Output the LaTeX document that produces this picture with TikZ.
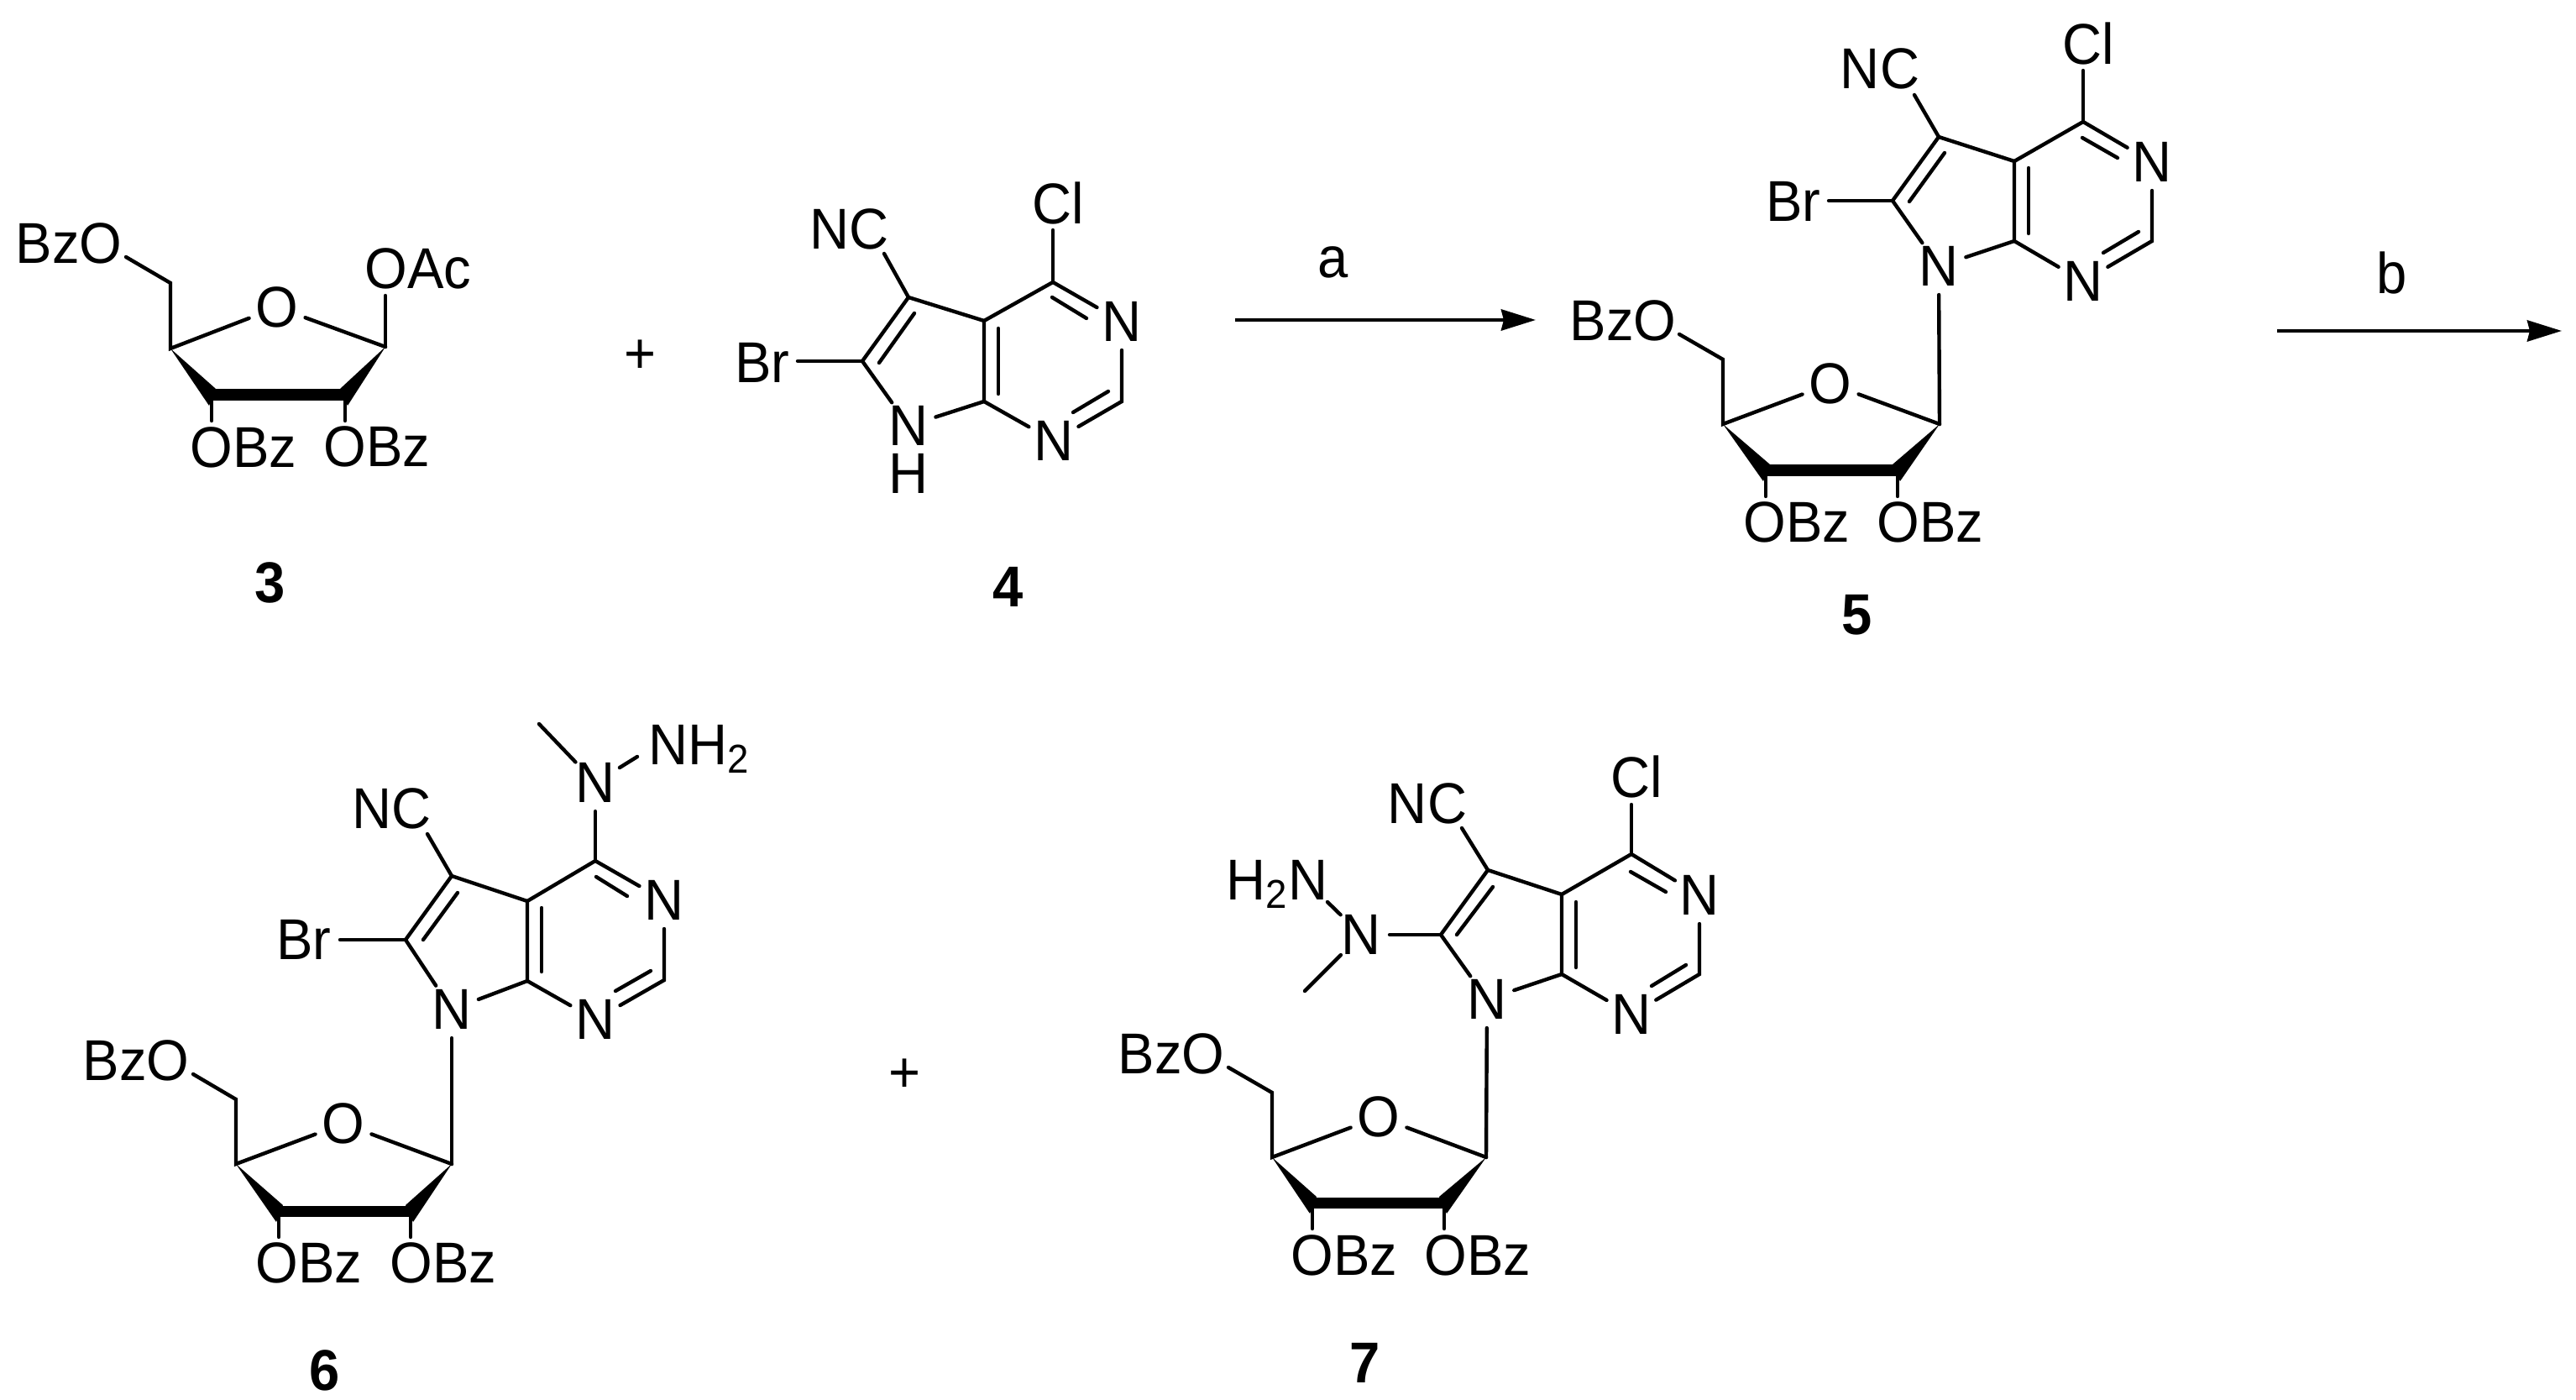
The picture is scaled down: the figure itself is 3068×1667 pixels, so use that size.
\documentclass[tikz,border=0pt]{standalone}
\usepackage{fontspec}
\setmainfont{Liberation Sans}[FakeStretch = 0.95]
\usetikzlibrary{calc, arrows.meta}

\tikzset{
	bond/.style = {line width = 0.044cm, line cap = round},
	boldbond/.style = {line width = 0.13cm},
	atom/.style = {circle, inner sep = 0pt, font = \fontsize{19.5}{21}\selectfont},
	grp/.style = {inner sep = 0pt, font = \fontsize{19.5}{21}\selectfont},
	num/.style = {inner sep = 0pt, font = \fontsize{19.5}{21}\selectfont\bfseries}
}

\begin{document}
\begin{tikzpicture}[x = 0.01cm, y = -0.01cm, > = {Stealth[length = 0.41cm, width = 0.25cm, inset = 0.03cm]}]

	\useasboundingbox (0, 0) rectangle (3068, 1667);

	% Sugar positions: ring, CH2, bond end, O, BzO, two OBz

	\foreach \n/\x/\y in {r1/459/413, r2/411/470, r3/252/470, r4/203/415, r5/203/337, ble/150/306, po/330/366, pb/82/290, po3/290/533, po2/449/532}
		\coordinate (m3-\n) at (\x, \y);
	\foreach \n/\x/\y in {r1/2310/505, r2/2260/560, r3/2103/560, r4/2052/505, r5/2052/428, ble/2000/398, po/2180/457, pb/1933/382, po3/2140/622, po2/2299/622}
		\coordinate (m5-\n) at (\x, \y);
	\foreach \n/\x/\y in {r1/538/1386, r2/489/1442, r3/332/1442, r4/281/1386, r5/281/1309, ble/230/1279, po/409/1338, pb/162/1263, po3/368/1504, po2/528/1504}
		\coordinate (m6-\n) at (\x, \y);
	\foreach \n/\x/\y in {r1/1770/1378, r2/1720/1432, r3/1563/1432, r4/1515/1378, r5/1515/1301, ble/1463/1271, po/1642/1330, pb/1395/1255, po3/1601/1495, po2/1760/1495}
		\coordinate (m7-\n) at (\x, \y);

	% Ring system positions: carbons, three N, inner lines, NC

	\foreach \n/\x/\y in {c4/1254/336, pn3/1336/383, c2/1336/478, pn1/1255/525, c7a/1172/478, c4a/1172/382, c5/1082/354, c6/1027/430, pn7/1082/507, i1a/1253/354, i1b/1294/379, i2a/1320/466, i2b/1278/491, i3a/1189/391, i3b/1189/469, i4a/1089/373, i4b/1047/432, pnc/1012/273, nce/1053/302}
		\coordinate (m4-\n) at (\x, \y);
	\foreach \n/\x/\y in {c4/2481/145, pn3/2563/193, c2/2563/287, pn1/2481/335, c7a/2399/287, c4a/2399/192, c5/2309/163, c6/2254/239, pn7/2309/317, i1a/2480/164, i1b/2522/188, i2a/2547/276, i2b/2505/301, i3a/2416/200, i3b/2416/278, i4a/2316/182, i4b/2274/240, pnc/2239/82, nce/2280/113}
		\coordinate (m5-\n) at (\x, \y);
	\foreach \n/\x/\y in {c4/709/1025, pn3/791/1072, c2/791/1167, pn1/709/1214, c7a/628/1168, c4a/628/1073, c5/538/1043, c6/483/1119, pn7/538/1202, i1a/710/1044, i1b/747/1067, i2a/775/1156, i2b/733/1180, i3a/645/1081, i3b/645/1157, i4a/545/1063, i4b/504/1119, pnc/467/963, nce/509/993}
		\coordinate (m6-\n) at (\x, \y);
	\foreach \n/\x/\y in {c4/1943/1017, pn3/2024/1066, c2/2024/1160, pn1/1943/1208, c7a/1860/1160, c4a/1860/1065, c5/1772/1036, c6/1716/1113, pn7/1771/1190, i1a/1942/1038, i1b/1984/1062, i2a/2008/1149, i2b/1967/1174, i3a/1877/1074, i3b/1877/1152, i4a/1778/1056, i4b/1735/1113, pnc/1700/957, nce/1741/986}
		\coordinate (m7-\n) at (\x, \y);

	% Sugar

	\foreach \m in {m3, m5, m6, m7}
	{
		\node [atom] (\m-o) at (\m-po) {O};
		\node [grp] (\m-bzo) at (\m-pb) {BzO};
		\node [grp] (\m-obz3) at (\m-po3) {OBz};
		\node [grp] (\m-obz2) at (\m-po2) {OBz};
		\coordinate (\m-e3) at ($(\m-r3) + (0, 31)$);
		\coordinate (\m-e2) at ($(\m-r2) + (0, 31)$);

		\fill (\m-r4) -- ($(\m-r3) + (5, -7)$) -- ($(\m-r3) + (-3, 13)$) -- cycle;
		\fill (\m-r1) -- ($(\m-r2) + (-6, -7)$) -- ($(\m-r2) + (3, 13)$) -- cycle;
		\draw [boldbond] (\m-r3) -- (\m-r2);
		\draw [bond] (\m-r1) -- (\m-o) -- (\m-r4) -- (\m-r5) -- (\m-ble);
		\draw [bond] (\m-r3) -- (\m-e3);
		\draw [bond] (\m-r2) -- (\m-e2);
	}

	% Ring system

	\foreach \m in {m4, m5, m6, m7}
	{
		\foreach \a in {n1, n3, n7}
			\node [atom] (\m-\a) at (\m-p\a) {N};
		\node [grp] (\m-nc) at (\m-pnc) {NC};

		\draw [bond] (\m-c4) -- (\m-n3) -- (\m-c2) -- (\m-n1) -- (\m-c7a) -- (\m-c4a) -- (\m-c4);
		\draw [bond] (\m-c7a) -- (\m-n7) -- (\m-c6) -- (\m-c5) -- (\m-c4a);
		\draw [bond] (\m-c5) -- (\m-nce);
		\foreach \i in {1, 2, 3, 4}
			\draw [bond] (\m-i\i a) -- (\m-i\i b);
	}

	% Compound 3

	\node [grp] (m3-oac) at (498, 320) {OAc};
	\coordinate (m3-ace) at (459, 352);
	\draw [bond] (m3-r1) -- (m3-ace);
	\node [num] (n3) at (322, 694) {3};

	\node [grp] (plus1) at (763, 425) {+};

	% Compound 4

	\node [grp] (m4-cl) at (1260, 242) {Cl};
	\node [grp] (m4-br) at (908, 432) {Br};
	\node [grp] (m4-h) at (1082, 564) {H};
	\coordinate (m4-cle) at (1254, 274);
	\coordinate (m4-bre) at (950, 430);
	\draw [bond] (m4-c4) -- (m4-cle);
	\draw [bond] (m4-c6) -- (m4-bre);
	\node [num] (n4) at (1201, 699) {4};

	% Step a

	\coordinate (a0) at (1471, 381);
	\coordinate (a1) at (1829, 381);
	\draw [bond, line cap = butt, ->] (a0) -- (a1);
	\node [grp] (stepa) at (1588, 312) {a};

	% Compound 5

	\node [grp] (m5-cl) at (2487, 52) {Cl};
	\node [grp] (m5-br) at (2136, 240) {Br};
	\coordinate (m5-cle) at (2481, 84);
	\coordinate (m5-bre) at (2178, 239);
	\draw [bond] (m5-c4) -- (m5-cle);
	\draw [bond] (m5-c6) -- (m5-bre);
	\draw [bond] (m5-n7) -- (m5-r1);
	\node [num] (n5) at (2212, 732) {5};

	% Step b

	\coordinate (b0) at (2712, 394);
	\coordinate (b1) at (3051, 394);
	\draw [bond, line cap = butt, ->] (b0) -- (b1);
	\node [grp] (stepb) at (2849, 325) {b};

	% Compound 6

	\node [grp] (m6-br) at (362, 1119) {Br};
	\coordinate (m6-bre) at (405, 1119);
	\draw [bond] (m6-c6) -- (m6-bre);
	\draw [bond] (m6-n7) -- (m6-r1);
	\node [atom] (m6-nme) at (709, 932) {N};
	\node [grp, anchor = base west] (m6-nh2) at (772, 910) {NH\textsubscript{2}};
	\coordinate (m6-nhe) at (759, 901);
	\coordinate (m6-me) at (642, 862);
	\draw [bond] (m6-c4) -- (m6-nme);
	\draw [bond] (m6-nme) -- (m6-nhe);
	\draw [bond] (m6-nme) -- (m6-me);
	\node [num] (n6) at (387, 1632) {6};

	\node [grp] (plus2) at (1078, 1281) {+};

	% Compound 7

	\node [grp] (m7-cl) at (1949, 925) {Cl};
	\coordinate (m7-cle) at (1943, 958);
	\draw [bond] (m7-c4) -- (m7-cle);
	\draw [bond] (m7-n7) -- (m7-r1);
	\node [atom] (m7-nme) at (1621, 1113) {N};
	\node [grp, anchor = base west] (m7-nh2) at (1460, 1071) {H\textsubscript{2}N};
	\coordinate (m7-nhe) at (1581, 1074);
	\coordinate (m7-me) at (1554, 1180);
	\draw [bond] (m7-c6) -- (m7-nme);
	\draw [bond] (m7-nme) -- (m7-nhe);
	\draw [bond] (m7-nme) -- (m7-me);
	\node [num] (n7) at (1626, 1623) {7};

\end{tikzpicture}
\end{document}
